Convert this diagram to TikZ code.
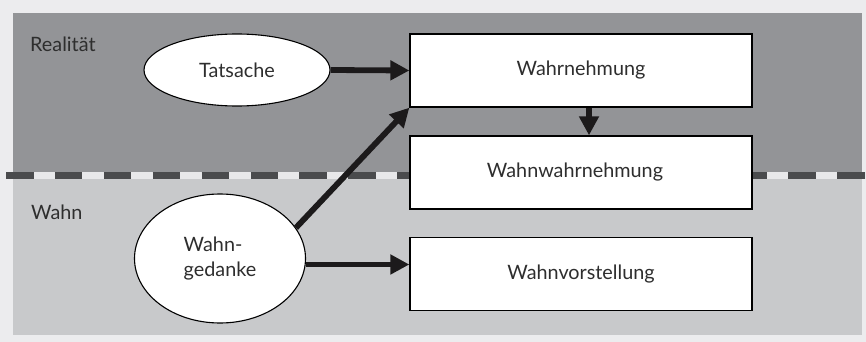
\documentclass[tikz,border=0pt]{standalone}
\usepackage{fontspec}
\setmainfont{Lato}
\usetikzlibrary{arrows.meta,shapes.geometric}
\definecolor{bgc}{HTML}{ECECEE}
\definecolor{darkreg}{HTML}{939497}
\definecolor{lightreg}{HTML}{C8C9CB}
\definecolor{dashdark}{HTML}{4A4B4D}
\definecolor{dashlight}{HTML}{E8E8EA}
\definecolor{txt}{HTML}{2E2E2E}
\definecolor{arr}{HTML}{1C1A1B}
\tikzset{
  lbl/.style={font=\fontsize{19.8}{25}\selectfont, text=txt},
  box/.style={draw=black, line width=1.3pt, fill=white, minimum width=342pt, minimum height=73pt, inner sep=0pt, lbl},
  oval/.style={ellipse, draw=black, line width=1.1pt, fill=white, inner sep=0pt, lbl},
  fat/.style={draw=arr, line width=5.8pt, -{Triangle[length=19pt,width=19pt]}, shorten >=0pt}
}
\begin{document}
\begin{tikzpicture}[x=1pt,y=-1pt]
\useasboundingbox (0,0) rectangle (866,342);
\fill[bgc] (0,0) rectangle (866,342);
\fill[darkreg] (13,13) rectangle (862,175);
\fill[lightreg] (13,175) rectangle (862,335);
\draw[dashlight, line width=7pt] (6,175) -- (866,175);
\draw[dashdark, line width=7pt, dash pattern=on 27.5pt off 21.4pt] (6,175) -- (866,175);
\node[lbl, anchor=base west, inner sep=0pt] (real) at (30,52) {Realität};
\node[lbl, anchor=base west, inner sep=0pt] (wahn) at (31,219) {Wahn};
\node[oval, minimum width=186pt, minimum height=72pt] (ts) at (237,70) {Tatsache};
\node[oval, minimum width=171pt, minimum height=129pt, align=left] (wg) at (220,258.5) {Wahn-\\gedanke};
\node[box] (wn) at (581,70.5) {Wahrnehmung};
\node[box] (ww) at (581,172.5) {\hspace*{-12pt}Wahnwahrnehmung};
\node[box] (wv) at (581,274) {Wahnvorstellung};
\draw[fat] (ts.east) -- (wn.west);
\draw[fat] ([xshift=8pt]wn.south) -- ([xshift=8pt]wn.south |- ww.north);
\draw[fat] (wg.22) -- (wn.south west);
\draw[fat] (wg.-4) -- (wg.-4 -| wv.west);
\end{tikzpicture}
\end{document}
